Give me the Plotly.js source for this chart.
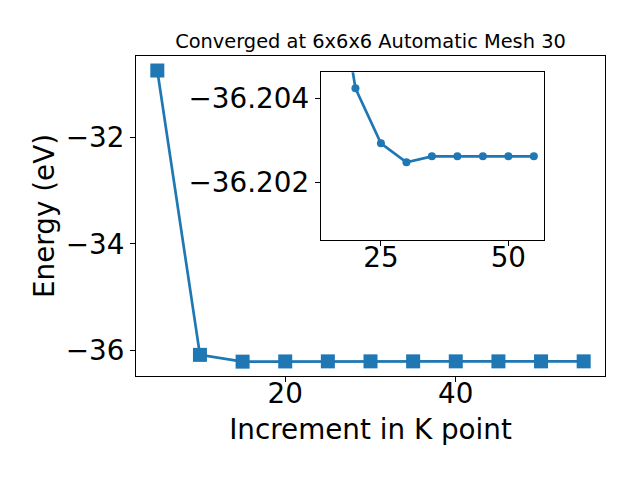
<!DOCTYPE html>
<html>
<head>
<meta charset="utf-8">
<script src="https://cdn.plot.ly/plotly-3.0.1.min.js"></script>
<style>html,body{margin:0;padding:0;background:#fff;}#chart{width:640px;height:480px;}</style>
</head>
<body>
<div id="chart"></div>
<script>
// Data
const kpoints = [5, 10, 15, 20, 25, 30, 35, 40, 45, 50, 55];
const energy = [-30.753, -36.081, -36.208, -36.20424, -36.20293, -36.20248, -36.20262, -36.20262, -36.20262, -36.20262, -36.20262];
// The inset zooms on the converged tail (from 15 k-points on)
const insetKpoints = kpoints.slice(2);
const insetEnergy = energy.slice(2);
const mainXTicks = [20, 40];
const mainYTicks = [-32, -34, -36];
const insetXTicks = [25, 50];
const insetYTicks = [-36.204, -36.202];
const insetYTickText = ['\u221236.204', '\u221236.202'];

const blue = '#1f77b4';
const font = 'DejaVu Sans, sans-serif';

const traces = [
  {x: kpoints, y: energy, type: 'scatter', mode: 'lines+markers', xaxis: 'x', yaxis: 'y',
   line: {color: blue, width: 2.7}, marker: {symbol: 'square', size: 14, color: blue}, hoverinfo: 'none', showlegend: false},
  {x: insetKpoints, y: insetEnergy, type: 'scatter', mode: 'lines+markers', xaxis: 'x2', yaxis: 'y2',
   line: {color: blue, width: 2.7}, marker: {symbol: 'circle', size: 8, color: blue}, hoverinfo: 'none', showlegend: false}
];

const axisCommon = {
  showline: true, linecolor: 'black', linewidth: 1.1, mirror: true,
  ticks: 'outside', ticklen: 5, tickwidth: 1.1, tickcolor: 'black',
  showgrid: false, zeroline: false,
  tickfont: {family: font, size: 27.8, color: 'black'}
};

const layout = {
  width: 640, height: 480,
  margin: {l: 136, r: 35, t: 56, b: 104},
  paper_bgcolor: 'white', plot_bgcolor: 'white',
  font: {family: font, color: 'black'},
  title: {text: 'Converged at 6x6x6 Automatic Mesh 30', font: {family: font, size: 19.4, color: 'black'},
    x: 0.5, xref: 'paper', xanchor: 'center', y: 1, yref: 'paper', yanchor: 'bottom', pad: {b: 8}},
  xaxis: Object.assign({}, axisCommon, {range: [2.5, 57.5], tickvals: mainXTicks, ticktext: mainXTicks.map(String),
    domain: [0, 1], anchor: 'y', ticklabelstandoff: -12,
    title: {text: 'Increment in K point', font: {family: font, size: 27.8, color: 'black'}, standoff: 10}}),
  yaxis: Object.assign({}, axisCommon, {range: [-36.477, -30.481], tickvals: mainYTicks,
    ticktext: mainYTicks.map(v => '\u2212' + Math.abs(v)), domain: [0, 1], anchor: 'x',
    title: {text: 'Energy (eV)', font: {family: font, size: 27.8, color: 'black'}, standoff: 2}}),
  xaxis2: Object.assign({}, axisCommon, {range: [13.2, 57.0], tickvals: insetXTicks, ticktext: insetXTicks.map(String),
    domain: [0.394, 0.870], anchor: 'y2', ticklabelstandoff: -12}),
  yaxis2: Object.assign({}, axisCommon, {range: [-36.20063, -36.20462], tickvals: insetYTicks, ticktext: insetYTickText,
    domain: [0.425, 0.949], anchor: 'x2'})
};

Plotly.newPlot('chart', traces, layout, {staticPlot: true, displayModeBar: false});
</script>
</body>
</html>
